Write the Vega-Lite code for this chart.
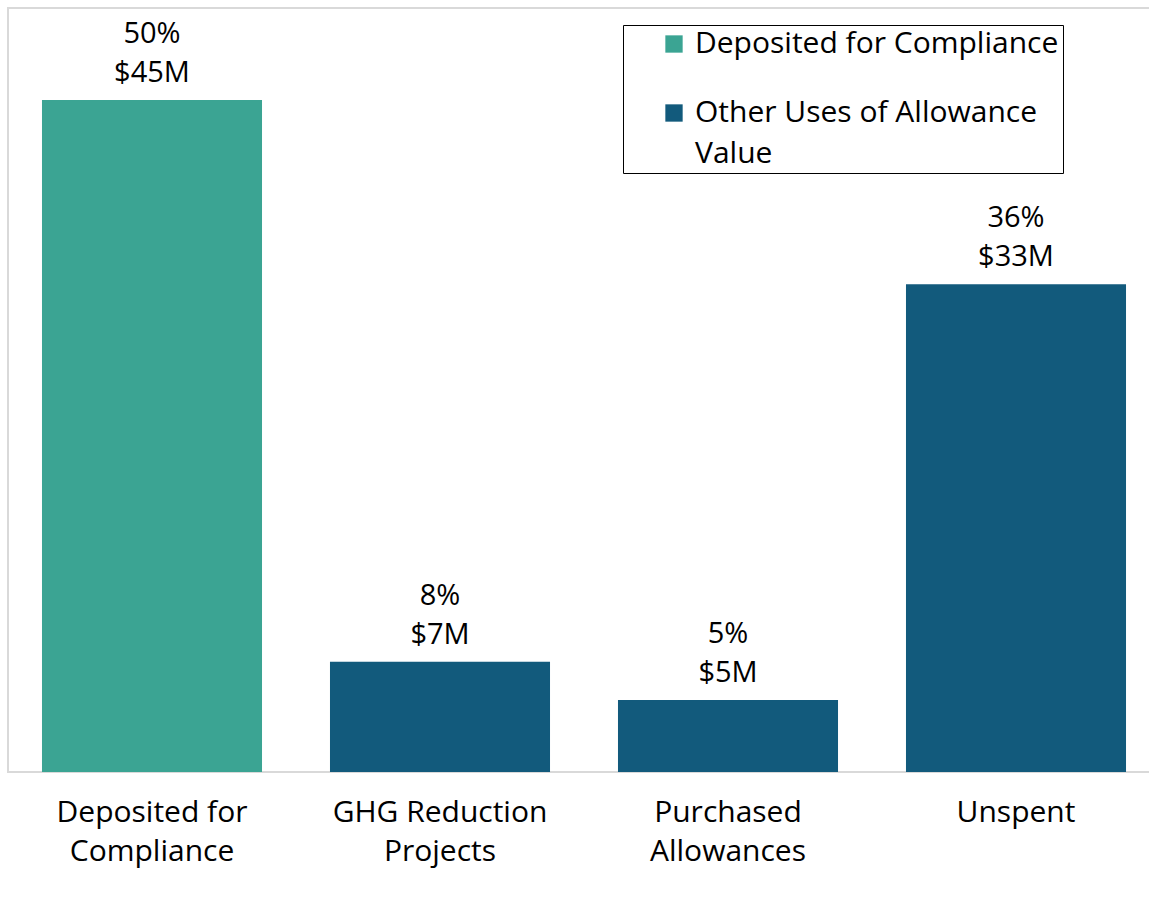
{
  "$schema": "https://vega.github.io/schema/vega-lite/v6.json",
  "width": 1152,
  "height": 764,
  "autosize": {"type": "none"},
  "padding": {"left": 8, "top": 8, "right": 0, "bottom": 127},
  "background": "white",
  "config": {
    "font": "Open Sans",
    "view": {"stroke": "#d9d9d9", "strokeWidth": 2},
    "style": {"guide-label": {"lineHeight": 41}}
  },
  "data": {
    "values": [
      {"category": "Deposited for Compliance", "group": "Deposited for Compliance", "pct": 50.0, "pct_label": "50%", "usd_label": "$45M"},
      {"category": "GHG Reduction Projects", "group": "Other Uses of Allowance Value", "pct": 8.2, "pct_label": "8%", "usd_label": "$7M"},
      {"category": "Purchased Allowances", "group": "Other Uses of Allowance Value", "pct": 5.35, "pct_label": "5%", "usd_label": "$5M"},
      {"category": "Unspent", "group": "Other Uses of Allowance Value", "pct": 36.3, "pct_label": "36%", "usd_label": "$33M"}
    ]
  },
  "encoding": {
    "x": {
      "field": "category",
      "type": "nominal",
      "sort": null,
      "scale": {"paddingInner": 0.236, "paddingOuter": 0.118},
      "axis": {
        "title": null,
        "domain": false,
        "ticks": false,
        "labelAngle": 0,
        "labelFontSize": 30,
        "labelColor": "#000000",
        "labelPadding": 25,
        "labelLineHeight": 39,
        "labelLimit": 300,
        "labelBaseline": "top",
        "labelExpr": "datum.label == 'Deposited for Compliance' ? ['Deposited for', 'Compliance'] : datum.label == 'GHG Reduction Projects' ? ['GHG Reduction', 'Projects'] : datum.label == 'Purchased Allowances' ? ['Purchased', 'Allowances'] : datum.label"
      }
    },
    "y": {
      "field": "pct",
      "type": "quantitative",
      "scale": {"domain": [0, 56.85], "nice": false, "zero": true},
      "axis": null
    }
  },
  "layer": [
    {
      "mark": {"type": "bar"},
      "encoding": {
        "color": {
          "field": "group",
          "type": "nominal",
          "scale": {"domain": ["Deposited for Compliance", "Other Uses of Allowance Value"], "range": ["#3BA493", "#125A7C"]},
          "legend": {
            "title": null,
            "orient": "none",
            "legendX": 615,
            "legendY": 17,
            "strokeColor": "#000000",
            "padding": 4,
            "symbolType": "square",
            "symbolSize": 300,
            "symbolOffset": 32,
            "symbolStrokeWidth": 0,
            "labelFontSize": 30,
            "labelColor": "#000000",
            "labelOffset": 6,
            "labelLimit": 500,
            "rowPadding": 39,
            "labelExpr": "datum.label == 'Other Uses of Allowance Value' ? ['Other Uses of Allowance', 'Value'] : datum.label"
          }
        }
      }
    },
    {
      "mark": {"type": "text", "fontSize": 29, "color": "#000000", "baseline": "alphabetic", "dy": -18},
      "encoding": {"text": {"field": "usd_label", "type": "nominal"}}
    },
    {
      "mark": {"type": "text", "fontSize": 29, "color": "#000000", "baseline": "alphabetic", "dy": -57},
      "encoding": {"text": {"field": "pct_label", "type": "nominal"}}
    }
  ]
}
